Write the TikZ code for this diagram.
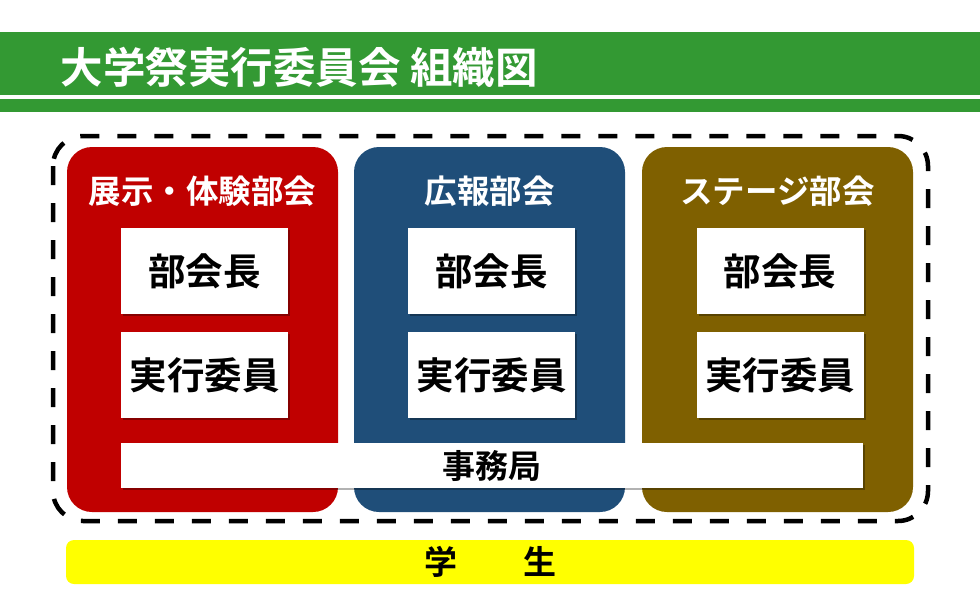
\documentclass[tikz,border=0pt]{standalone}
\usepackage{fontspec}
\newfontfamily\jp{Noto Sans CJK JP Bold}
\usetikzlibrary{shadows}
\definecolor{banner}{HTML}{339933}
\definecolor{tenjicol}{HTML}{C00000}
\definecolor{kohocol}{HTML}{1F4E79}
\definecolor{stagecol}{HTML}{7F6000}
\definecolor{gakusei}{HTML}{FFFF00}

\begin{document}
\begin{tikzpicture}[x=1pt,y=-1pt]
\tikzstyle{bukai}=[rounded corners=25pt,minimum width=271pt,minimum height=365pt,inner sep=0pt]
\tikzstyle{bukainame}=[text=white,font=\jp\fontsize{32.5}{34}\selectfont]
\tikzstyle{yakushoku}=[fill=white,minimum width=167pt,minimum height=86pt,inner sep=0pt,
  font=\jp\fontsize{37.5}{39}\selectfont,
  drop shadow={shadow xshift=2pt,shadow yshift=-2pt,opacity=0.3,fill=black}]
\tikzstyle{waku}=[dash pattern=on 19pt off 18pt,line width=4.5pt,rounded corners=30pt]

\useasboundingbox (0,0) rectangle (980,605);

% title
\fill[banner] (0,32) rectangle (980,95);
\fill[banner] (0,99) rectangle (980,112);
\node[anchor=west,text=white,font=\jp\fontsize{42.5}{44}\selectfont] (title) at (57,67) {大学祭実行委員会 組織図};

% committee frame
\draw[waku] (53,136) rectangle (928,521);

% three departments
\node[bukai,fill=tenjicol] (tenji) at (202.5,329.5) {};
\node[bukai,fill=kohocol] (koho) at (489.5,329.5) {};
\node[bukai,fill=stagecol] (stage) at (777.5,329.5) {};

\node[bukainame] (tenjiname) at (202.5,191) {展示・体験部会};
\node[bukainame] (kohoname) at (489.5,191) {広報部会};
\node[bukainame] (stagename) at (777.5,191) {ステージ部会};

\node[yakushoku] (tenjichief) at (204.5,271) {部会長};
\node[yakushoku] (kohochief) at (491.5,271) {部会長};
\node[yakushoku] (stagechief) at (780,271) {部会長};
\node[yakushoku] (tenjiiin) at (204.5,375) {実行委員};
\node[yakushoku] (kohoiin) at (491.5,375) {実行委員};
\node[yakushoku] (stageiin) at (780,375) {実行委員};

\node[yakushoku,minimum width=742pt,minimum height=45pt,font=\jp\fontsize{33}{35}\selectfont] (jimu) at (492,465.5) {事務局};

% students
\node[fill=gakusei,rounded corners=8pt,minimum width=848pt,minimum height=44pt,inner sep=0pt,font=\jp\fontsize{33}{35}\selectfont] (students) at (490,562) {学\hspace{2em}生};

\end{tikzpicture}
\end{document}
